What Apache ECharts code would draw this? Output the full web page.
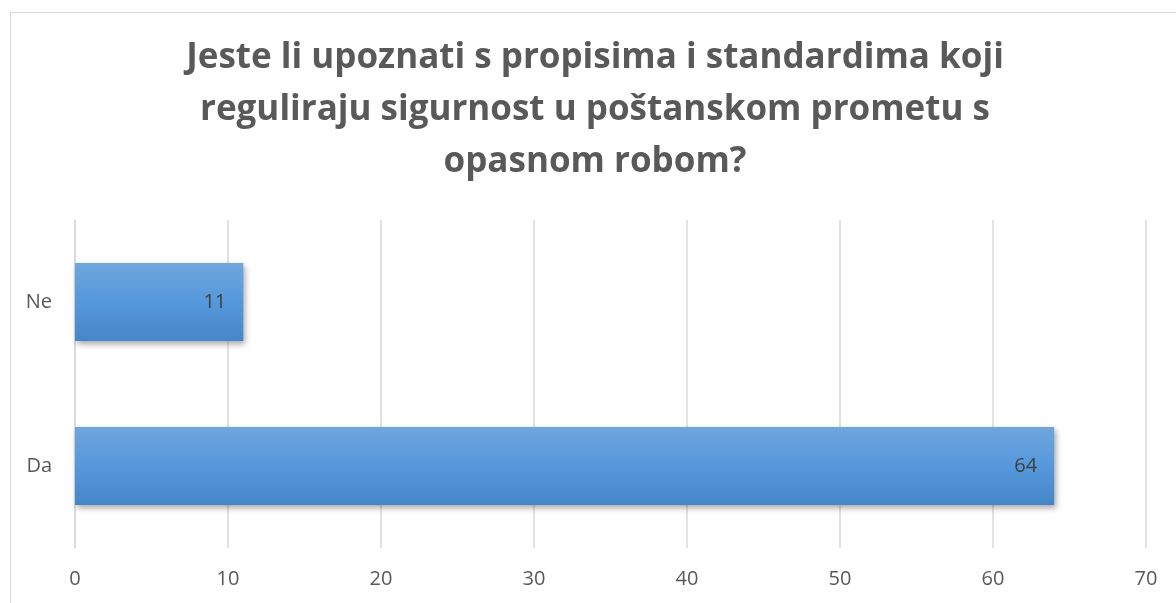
<!DOCTYPE html>
<html><head><meta charset="utf-8">
<script src="https://cdn.jsdelivr.net/npm/echarts@6/dist/echarts.min.js"></script>
<style>html,body{margin:0;padding:0;background:#fff}#c{width:1176px;height:603px}</style>
</head><body><div id="c"></div>
<script>
const titleText = "Jeste li upoznati s propisima i standardima koji\nreguliraju sigurnost u poštanskom prometu s\nopasnom robom?";
const categories = ["Da", "Ne"];
const values = [64, 11];
const axisTicks = [0, 10, 20, 30, 40, 50, 60, 70];

const chart = echarts.init(document.getElementById('c'), null, {renderer: 'canvas'});
chart.setOption({
  animation: false,
  backgroundColor: '#ffffff',
  graphic: [{
    type: 'rect', left: 8, top: 10, z: -1,
    shape: {width: 1180, height: 600},
    style: {fill: 'none', stroke: '#d9d9d9', lineWidth: 1}
  }, {
    type: 'text', x: 595, y: 32, z: 10,
    style: {
      text: titleText, align: 'center', verticalAlign: 'top',
      fontFamily: 'Open Sans', fontWeight: 'bold', fontSize: 35, lineHeight: 52, fill: '#595959'
    }
  }],
  grid: {left: 75, right: 30, top: 220, bottom: 55, containLabel: false},
  xAxis: {
    type: 'value', min: axisTicks[0], max: axisTicks[axisTicks.length - 1], interval: 10,
    axisLine: {show: false}, axisTick: {show: false},
    splitLine: {show: true, lineStyle: {color: '#d9d9d9', width: 1.5}},
    axisLabel: {margin: 21, fontFamily: 'Open Sans', fontSize: 20, color: '#595959'}
  },
  yAxis: {
    type: 'category', data: categories,
    axisLine: {show: true, lineStyle: {color: '#d9d9d9', width: 1.5}}, axisTick: {show: false},
    axisLabel: {margin: 23, fontFamily: 'Open Sans', fontSize: 20, color: '#595959'}
  },
  series: [{
    type: 'bar', data: values, barWidth: '47.5%',
    itemStyle: {
      color: new echarts.graphic.LinearGradient(0, 0, 0, 1, [
        {offset: 0, color: '#6fa6dc'},
        {offset: 0.5, color: '#5598dc'},
        {offset: 1, color: '#4686c8'}
      ]),
      shadowColor: 'rgba(0,0,0,0.35)', shadowBlur: 6, shadowOffsetX: 2, shadowOffsetY: 3
    },
    label: {show: true, position: 'insideRight', distance: 17, fontFamily: 'Open Sans', fontSize: 20, color: '#404040'}
  }]
});
</script></body></html>
